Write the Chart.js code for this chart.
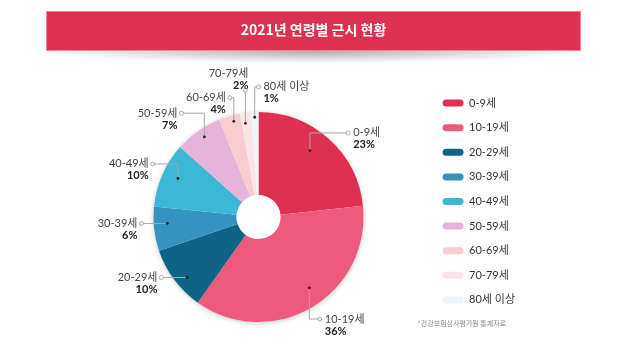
<!DOCTYPE html>
<html>
<head>
<meta charset="utf-8">
<script src="https://cdn.jsdelivr.net/npm/chart.js@4.4.1/dist/chart.umd.min.js"></script>
<style>
  html, body { margin: 0; padding: 0; background: #fff; }
</style>
</head>
<body>
<canvas id="myChart" width="624" height="350"></canvas>
<script>
const ageGroups = ['0-9세', '10-19세', '20-29세', '30-39세', '40-49세', '50-59세', '60-69세', '70-79세', '80세 이상'];
const shares = [23.3, 36.5, 10.0, 6.8, 10.0, 7.3, 3.3, 1.7, 1.1];
const shareLabels = ['23%', '36%', '10%', '6%', '10%', '7%', '4%', '2%', '1%'];
const sliceColors = ['#df3052', '#ee5a7d', '#0f6387', '#3493c1', '#3cb8d6', '#e6b4db', '#f8ccd0', '#fbe3e6', '#edf5fc'];
const titleText = '2021년 연령별 근시 현황';
const footNote = '*건강보험심사평가원 통계자료';

// callout placement: anchor in pie radii from the centre (null = follow the dot),
// t = where along the slice the dot sits, f = how far out
const callouts = [
  { ax: 0.854, ay: -0.80, side: 'right', t: 0.45, f: 0.80 },
  { ax: 0.584, ay: 0.971, side: 'right', t: 0.46, f: 0.83 },
  { ax: -0.924, ay: null, side: 'left', t: 0.40, f: 0.89 },
  { ax: -1.114, ay: null, side: 'left', t: 0.60, f: 0.87 },
  { ax: -1.007, ay: -0.505, side: 'left', t: 0.55, f: 0.85 },
  { ax: -0.733, ay: -0.988, side: 'left', t: 0.54, f: 0.92 },
  { ax: -0.273, ay: -1.136, side: 'left', t: 0.63, f: 0.94 },
  { ax: null, ay: -1.207, side: 'above', t: 0.35, f: 0.90 },
  { ax: 0.0, ay: -1.238, side: 'right', t: 0.45, f: 0.95 }
];

const banner = {
  id: 'banner',
  afterLayout(chart) {
    // centre the title on the red bar
    const t = chart.titleBlock;
    const shift = 313.5 - (t.left + t.right) / 2;
    t.left += shift;
    t.right += shift;
  },
  beforeDraw(chart) {
    const ctx = chart.ctx;
    ctx.save();
    ctx.beginPath();
    ctx.rect(0, 51, chart.width, 20);
    ctx.clip();
    ctx.translate(313.5, 51);
    ctx.scale(1, 0.045);
    const g = ctx.createRadialGradient(0, 0, 0, 0, 0, 270);
    g.addColorStop(0, 'rgba(0,0,0,0.32)');
    g.addColorStop(1, 'rgba(0,0,0,0)');
    ctx.fillStyle = g;
    ctx.fillRect(-270, -270, 540, 540);
    ctx.restore();

    ctx.save();
    ctx.fillStyle = '#de3050';
    ctx.fillRect(46, 11, 535, 40);
    ctx.strokeStyle = '#ef8597';
    ctx.lineWidth = 1;
    ctx.strokeRect(46.5, 11.5, 534, 39);
    ctx.restore();
  }
};

const pieShadow = {
  id: 'pieShadow',
  beforeDatasetsDraw(chart) {
    const arc = chart.getDatasetMeta(0).data[0];
    if (!arc) return;
    const ctx = chart.ctx;
    ctx.save();
    ctx.shadowColor = 'rgba(0,0,0,0.22)';
    ctx.shadowBlur = 5;
    ctx.shadowOffsetY = 1;
    ctx.fillStyle = '#fff';
    ctx.beginPath();
    ctx.arc(arc.x, arc.y, arc.outerRadius, 0, Math.PI * 2);
    ctx.fill();
    ctx.restore();
  }
};

const calloutLabels = {
  id: 'calloutLabels',
  afterDatasetsDraw(chart) {
    const ctx = chart.ctx;
    const arcs = chart.getDatasetMeta(0).data;
    ctx.save();
    arcs.forEach((arc, i) => {
      const c = callouts[i];
      const R = arc.outerRadius;
      const ang = arc.startAngle + (arc.endAngle - arc.startAngle) * c.t;
      const dx = arc.x + Math.cos(ang) * R * c.f;
      const dy = arc.y + Math.sin(ang) * R * c.f;
      const axp = c.ax === null ? dx : arc.x + c.ax * R;
      const ayp = c.ay === null ? dy : arc.y + c.ay * R;

      ctx.strokeStyle = '#a8a8a8';
      ctx.lineWidth = 1;
      ctx.beginPath();
      ctx.moveTo(dx, dy);
      ctx.lineTo(dx, ayp);
      ctx.lineTo(axp, ayp);
      ctx.stroke();

      ctx.fillStyle = '#fff';
      ctx.beginPath();
      ctx.arc(axp, ayp, 2, 0, Math.PI * 2);
      ctx.fill();
      ctx.stroke();

      ctx.fillStyle = '#222';
      ctx.beginPath();
      ctx.arc(dx, dy, 1.4, 0, Math.PI * 2);
      ctx.fill();

      let tx, nameY, pctY;
      if (c.side === 'right') {
        ctx.textAlign = 'left';
        tx = axp + 5;
        nameY = ayp;
        pctY = ayp + 12;
      } else if (c.side === 'left') {
        ctx.textAlign = 'right';
        tx = axp - 4;
        nameY = ayp;
        pctY = ayp + 12;
      } else {
        ctx.textAlign = 'right';
        tx = axp + 3;
        nameY = ayp - 16.5;
        pctY = ayp - 4.5;
      }
      ctx.textBaseline = 'middle';
      ctx.font = "11px Lato, 'Noto Sans CJK KR', sans-serif";
      ctx.fillStyle = '#444';
      ctx.fillText(ageGroups[i], tx, nameY);
      ctx.font = "bold 11px Lato, 'Noto Sans CJK KR', sans-serif";
      ctx.fillStyle = '#222';
      ctx.fillText(shareLabels[i], tx, pctY);
    });
    ctx.restore();
  },
  afterDraw(chart) {
    const boxes = chart.legend.legendHitBoxes;
    const last = boxes[boxes.length - 1];
    const ctx = chart.ctx;
    ctx.save();
    ctx.font = "7px 'Noto Sans CJK KR', sans-serif";
    ctx.fillStyle = '#888';
    ctx.textAlign = 'left';
    ctx.textBaseline = 'middle';
    ctx.fillText(footNote, last.left - 25, last.top + last.height / 2 + 23.5);
    ctx.restore();
  }
};

const ctx1 = document.querySelector('#myChart').getContext('2d');
let myChart = new Chart(ctx1, {
  type: 'doughnut',
  data: {
    labels: ageGroups,
    datasets: [{
      data: shares,
      backgroundColor: sliceColors,
      borderWidth: 0,
      radius: '79%',
      cutout: '21%'
    }]
  },
  options: {
    responsive: false,
    animation: false,
    layout: { padding: { top: 0, left: 88, right: 99, bottom: 0 } },
    plugins: {
      title: {
        display: true,
        text: titleText,
        color: '#fff',
        font: { family: "'Noto Sans CJK KR', sans-serif", size: 14, weight: 'bold' },
        padding: { top: 21.5, bottom: 45.7 }
      },
      legend: {
        position: 'right',
        align: 'start',
        fullSize: false,
        labels: {
          boxWidth: 21,
          boxHeight: 7,
          padding: 13.6,
          useBorderRadius: true,
          borderRadius: 3.5,
          color: '#333',
          font: { family: "Lato, 'Noto Sans CJK KR', sans-serif", size: 11 }
        }
      },
      tooltip: { enabled: false }
    }
  },
  plugins: [banner, pieShadow, calloutLabels]
});
</script>
</body>
</html>
